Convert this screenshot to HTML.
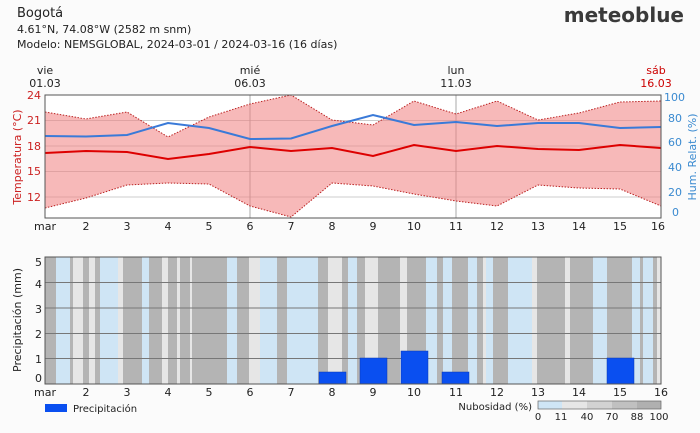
<!DOCTYPE html>
<html><head><meta charset="utf-8"><style>
body{margin:0;background:#fbfbfb;width:700px;height:429px;overflow:hidden;font-family:"DejaVu Sans","Liberation Sans",sans-serif}
</style></head><body>
<svg width="700" height="429" xmlns="http://www.w3.org/2000/svg" font-family="DejaVu Sans, Liberation Sans, sans-serif">
<rect width="700" height="429" fill="#fbfbfb"/>
<text x="17" y="17" font-size="13" fill="#222">Bogotá</text>
<text x="17" y="33" font-size="11" fill="#222">4.61°N, 74.08°W (2582 m snm)</text>
<text x="17" y="48" font-size="11" fill="#222">Modelo: NEMSGLOBAL, 2024-03-01 / 2024-03-16 (16 días)</text>
<text x="684" y="22" font-size="20" font-weight="bold" fill="#3a3a3a" text-anchor="end">meteoblue</text>
<!-- top labels -->
<g font-size="11" fill="#222" text-anchor="middle">
<text x="45" y="74">vie</text><text x="45" y="87">01.03</text>
<text x="250" y="74">mié</text><text x="250" y="87">06.03</text>
<text x="456" y="74">lun</text><text x="456" y="87">11.03</text>
<text x="656" y="74" fill="#c00">sáb</text><text x="656" y="87" fill="#c00">16.03</text>
</g>
<rect x="45" y="95" width="616" height="123" fill="#fff"/>
<g stroke="#ccc" stroke-width="1">
<line x1="45" x2="661" y1="120.5" y2="120.5"/><line x1="45" x2="661" y1="146" y2="146"/>
<line x1="45" x2="661" y1="171.5" y2="171.5"/><line x1="45" x2="661" y1="197" y2="197"/>
<line x1="250" x2="250" y1="95" y2="218" stroke="#aaa"/><line x1="456" x2="456" y1="95" y2="218" stroke="#aaa"/>
</g>
<polygon fill="#f08080" fill-opacity="0.55" points="45,112 86,119 127,112 168,137 209,117 250,104 291,95 332,120 373,125 414,101 456,114 497,101 538,120 579,113 620,102 661,101 661,206 620,189 579,188 538,185 497,206 456,201 414,194 373,186 332,183 291,217 250,206 209,184 168,183 127,185 86,198 45,208"/>
<polyline fill="none" stroke="#b22" stroke-width="1" stroke-dasharray="1.5,1.5" points="45,112 86,119 127,112 168,137 209,117 250,104 291,95 332,120 373,125 414,101 456,114 497,101 538,120 579,113 620,102 661,101"/>
<polyline fill="none" stroke="#b22" stroke-width="1" stroke-dasharray="1.5,1.5" points="45,208 86,198 127,185 168,183 209,184 250,206 291,217 332,183 373,186 414,194 456,201 497,206 538,185 579,188 620,189 661,206"/>
<polyline fill="none" stroke="#3a7ad8" stroke-width="2" points="45,136 86,136.5 127,135 168,123 209,128 250,139 291,138.5 332,126 373,115 414,125 456,122 497,126 538,123 579,123 620,128 661,127"/>
<polyline fill="none" stroke="#d00" stroke-width="2" points="45,153 86,151 127,152 168,159 209,154 250,147 291,151 332,148 373,156 414,145 456,151 497,146 538,149 579,150 620,145 661,148"/>
<rect x="45" y="95" width="616" height="123" fill="none" stroke="#555"/>
<g font-size="11" fill="#c22" text-anchor="end">
<text x="41" y="99">24</text><text x="41" y="124">21</text><text x="41" y="150">18</text><text x="41" y="175">15</text><text x="41" y="201">12</text>
</g>
<text transform="translate(21,157) rotate(-90)" font-size="11" fill="#c22" text-anchor="middle">Temperatura (°C)</text>
<g font-size="11" fill="#3a8ad0">
<text x="664" y="101">100</text><text x="668" y="122">80</text><text x="668" y="146">60</text><text x="668" y="171">40</text><text x="668" y="196">20</text><text x="672" y="216">0</text>
</g>
<text transform="translate(696,157) rotate(-90)" font-size="11" fill="#3a8ad0" text-anchor="middle">Hum. Relat. (%)</text>
<g font-size="11" fill="#222" text-anchor="middle">
<text x="45" y="230">mar</text><text x="86" y="230">2</text><text x="127" y="230">3</text><text x="168" y="230">4</text><text x="209" y="230">5</text><text x="250" y="230">6</text><text x="291" y="230">7</text><text x="332" y="230">8</text><text x="373" y="230">9</text><text x="414" y="230">10</text><text x="456" y="230">11</text><text x="497" y="230">12</text><text x="538" y="230">13</text><text x="579" y="230">14</text><text x="620" y="230">15</text><text x="658" y="230">16</text>
</g>
<!-- bottom panel -->
<g>
<rect x="45" y="257" width="616" height="127" fill="#b4b4b4"/>
<g fill="#cfe5f5">
<rect x="56" y="257" width="14" height="127"/><rect x="100" y="257" width="18" height="127"/><rect x="142" y="257" width="7" height="127"/><rect x="227" y="257" width="10" height="127"/><rect x="260" y="257" width="17" height="127"/><rect x="287" y="257" width="31" height="127"/><rect x="348" y="257" width="7" height="127"/><rect x="350" y="257" width="7" height="127"/><rect x="426" y="257" width="11" height="127"/><rect x="443" y="257" width="9" height="127"/><rect x="468" y="257" width="9" height="127"/><rect x="486" y="257" width="7" height="127"/><rect x="508" y="257" width="24" height="127"/><rect x="593" y="257" width="14" height="127"/><rect x="632" y="257" width="8" height="127"/><rect x="643" y="257" width="10" height="127"/>
</g>
<g fill="#e6e6e6">
<rect x="73" y="257" width="10" height="127"/><rect x="89" y="257" width="6" height="127"/><rect x="118" y="257" width="5" height="127"/><rect x="162" y="257" width="6" height="127"/><rect x="177" y="257" width="3" height="127"/><rect x="190" y="257" width="2" height="127"/><rect x="249" y="257" width="11" height="127"/><rect x="328" y="257" width="14" height="127"/><rect x="365" y="257" width="13" height="127"/><rect x="400" y="257" width="7" height="127"/><rect x="483" y="257" width="3" height="127"/><rect x="532" y="257" width="5" height="127"/><rect x="565" y="257" width="5" height="127"/><rect x="657" y="257" width="4" height="127"/>
</g>
<g stroke="#777" stroke-width="1">
<line x1="45" x2="661" y1="282.5" y2="282.5"/><line x1="45" x2="661" y1="308" y2="308"/><line x1="45" x2="661" y1="333.5" y2="333.5"/><line x1="45" x2="661" y1="358.5" y2="358.5"/>
</g>
<g fill="#0a4ff0" stroke="#0838b0" stroke-width="0.5">
<rect x="319" y="372" width="27" height="12"/><rect x="360" y="358" width="27" height="26"/><rect x="401" y="351" width="27" height="33"/><rect x="442" y="372" width="27" height="12"/><rect x="607" y="358" width="27" height="26"/>
</g>
<rect x="45" y="257" width="616" height="127" fill="none" stroke="#555"/>
</g>
<g font-size="11" fill="#222" text-anchor="end">
<text x="42" y="266">5</text><text x="42" y="288">4</text><text x="42" y="313">3</text><text x="42" y="338">2</text><text x="42" y="363">1</text><text x="42" y="382">0</text>
</g>
<text transform="translate(21,320) rotate(-90)" font-size="11" fill="#222" text-anchor="middle">Precipitación (mm)</text>
<g font-size="11" fill="#222" text-anchor="middle">
<text x="45" y="396">mar</text><text x="86" y="396">2</text><text x="127" y="396">3</text><text x="168" y="396">4</text><text x="209" y="396">5</text><text x="250" y="396">6</text><text x="291" y="396">7</text><text x="332" y="396">8</text><text x="373" y="396">9</text><text x="414" y="396">10</text><text x="456" y="396">11</text><text x="497" y="396">12</text><text x="538" y="396">13</text><text x="579" y="396">14</text><text x="620" y="396">15</text><text x="661" y="396">16</text>
</g>
<rect x="45" y="404" width="22" height="8" fill="#0a4ff0"/>
<text x="73" y="412" font-size="10" fill="#222">Precipitación</text>
<text x="532" y="410" font-size="10" fill="#222" text-anchor="end">Nubosidad (%)</text>
<rect x="538" y="401" width="24" height="8" fill="#cfe5f5"/><rect x="562" y="401" width="25" height="8" fill="#e6e6e6"/><rect x="587" y="401" width="25" height="8" fill="#d2d2d2"/><rect x="612" y="401" width="25" height="8" fill="#c0c0c0"/><rect x="637" y="401" width="24" height="8" fill="#b0b0b0"/>
<rect x="538" y="401" width="123" height="8" fill="none" stroke="#666" stroke-width="0.7"/>
<g font-size="10" fill="#222" text-anchor="middle">
<text x="538" y="420">0</text><text x="561" y="420">11</text><text x="587" y="420">40</text><text x="612" y="420">70</text><text x="637" y="420">88</text><text x="659" y="420">100</text>
</g>
</svg>
</body></html>
